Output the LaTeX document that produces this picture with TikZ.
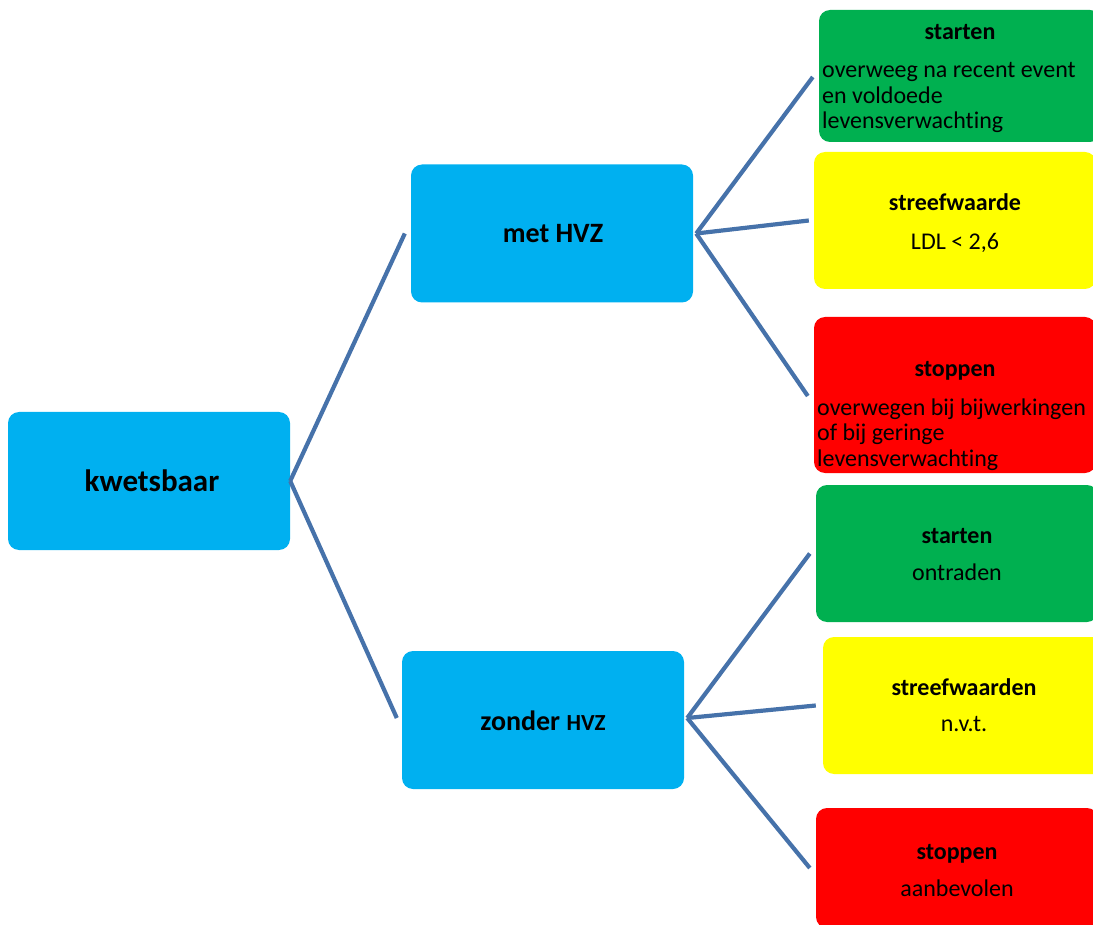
\documentclass[tikz,border=0pt]{standalone}
\usepackage{fontspec}
\setmainfont{Carlito}[Ligatures=NoCommon]
\definecolor{hblue}{HTML}{00B0F0}
\definecolor{hgreen}{HTML}{00B050}
\definecolor{hyellow}{HTML}{FFFF00}
\definecolor{hred}{HTML}{FF0000}
\definecolor{hline}{HTML}{4672AA}
\tikzset{
  box/.style={rectangle, rounded corners=11pt, minimum width=282pt, minimum height=138pt, inner sep=0pt},
  bluebox/.style={box, fill=hblue},
  greenbox/.style={box, fill=hgreen},
  yellowbox/.style={box, fill=hyellow},
  redbox/.style={box, fill=hred},
  conn/.style={draw=hline, line width=4.2pt},
  bigtxt/.style={inner sep=0pt, anchor=base, font=\bfseries\fontsize{28}{30}\selectfont},
  ttl/.style={inner sep=0pt, anchor=base, font=\bfseries\fontsize{24}{26}\selectfont},
  bodyc/.style={inner sep=0pt, anchor=base, font=\fontsize{24}{26}\selectfont},
  bodyl/.style={inner sep=0pt, anchor=base west, font=\fontsize{24}{26}\selectfont},
}
\begin{document}
\begin{tikzpicture}[x=1pt,y=-1pt]
\useasboundingbox (0,0) rectangle (1093,925);
\clip (0,0) rectangle (1093,925);
% boxes
\node[bluebox] (k) at (149,481) {};
\node[bluebox] (m) at (552,233.5) {};
\node[bluebox] (z) at (543,720) {};
\node[greenbox, minimum height=132pt] (g1) at (960,76) {};
\node[yellowbox, minimum height=137pt] (y1) at (955,220.5) {};
\node[redbox, minimum height=156pt] (r1) at (955,395) {};
\node[greenbox, minimum height=137pt] (g2) at (957,553.5) {};
\node[yellowbox, minimum height=137pt] (y2) at (964,705.5) {};
\node[redbox, minimum height=120pt] (r2) at (957,868) {};
% connectors
\draw[conn] (k.east) -- ([xshift=-6pt]m.west);
\draw[conn] (k.east) -- ([xshift=-5pt,yshift=2pt]z.west);
\draw[conn] ([xshift=3pt]m.east) -- ([xshift=-6pt,yshift=-1pt]g1.west);
\draw[conn] ([xshift=3pt]m.east) -- ([xshift=-5pt]y1.west);
\draw[conn] ([xshift=3pt]m.east) -- ([xshift=-6pt,yshift=-1pt]r1.west);
\draw[conn] ([xshift=3pt,yshift=2pt]z.east) -- ([xshift=-6pt]g2.west);
\draw[conn] ([xshift=3pt,yshift=2pt]z.east) -- ([xshift=-7pt]y2.west);
\draw[conn] ([xshift=3pt,yshift=2pt]z.east) -- ([xshift=-6pt]r2.west);
% texts
\node[bigtxt, font=\bfseries\fontsize{31}{33}\selectfont] (tk) at (152,491) {kwetsbaar};
\node[bigtxt] (tm) at (553,243) {met HVZ};
\node[bigtxt] (tz) at (543,730) {zonder {\fontsize{23}{25}\selectfont HVZ}};
\node[ttl] (tg1) at (960,40) {starten};
\node[bodyl] (tg1a) at (822,78) {overweeg na recent event};
\node[bodyl] (tg1b) at (822,103.5) {en voldoede};
\node[bodyl] (tg1c) at (822,129) {levensverwachting};
\node[ttl] (ty1) at (955,211) {streefwaarde};
\node[bodyc] (ty1a) at (955,250) {LDL < 2,6};
\node[ttl] (tr1) at (955,377) {stoppen};
\node[bodyl] (tr1a) at (817,415) {overwegen bij bijwerkingen};
\node[bodyl] (tr1b) at (817,440.5) {of bij geringe};
\node[bodyl] (tr1c) at (817,466) {levensverwachting};
\node[ttl] (tg2) at (957,543) {starten};
\node[bodyc] (tg2a) at (957,580) {ontraden};
\node[ttl] (ty2) at (964,695) {streefwaarden};
\node[bodyc] (ty2a) at (964,731) {n.v.t.};
\node[ttl] (tr2) at (957,859) {stoppen};
\node[bodyc] (tr2a) at (957,896) {aanbevolen};
\end{tikzpicture}
\end{document}
